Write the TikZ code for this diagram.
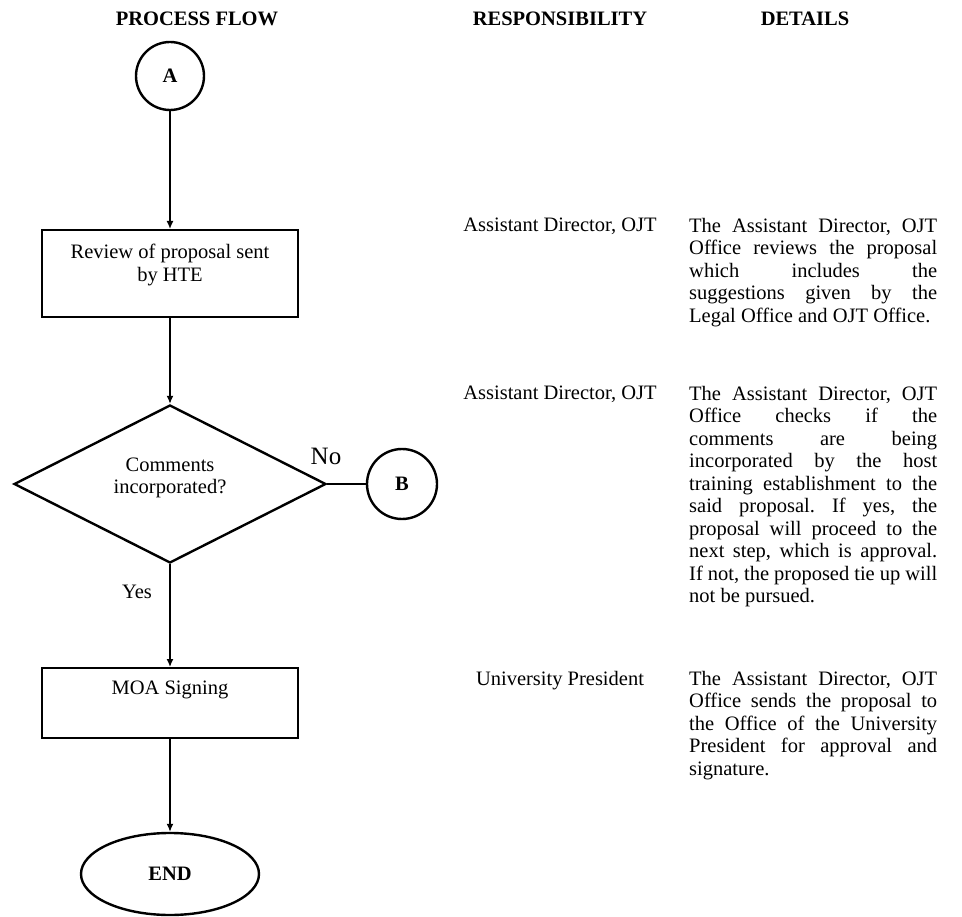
\documentclass[tikz,border=0pt]{standalone}
\usepackage{fontspec}
\setmainfont{Liberation Serif}
\usetikzlibrary{shapes.geometric,arrows.meta}

\newcommand{\pfsize}{\fontsize{20.5}{22.5}\selectfont}
\frenchspacing
\tikzset{
  flowbox/.style={draw, line width=2.4pt, minimum width=256pt, minimum height=87pt, anchor=north, inner sep=0pt},
  decision/.style={draw, diamond, line width=2.4pt, minimum width=312pt, minimum height=158pt, inner sep=0pt},
  connector/.style={draw, circle, line width=2.4pt, inner sep=0pt, font=\pfsize\bfseries},
  terminal/.style={draw, ellipse, line width=2.4pt, minimum width=178pt, minimum height=82pt, font=\pfsize\bfseries},
  flowline/.style={line width=1.4pt},
  flowarrow/.style={flowline, -{Latex[length=8pt,width=7pt]}},
  header/.style={font=\pfsize\bfseries},
  boxtext/.style={anchor=north, inner sep=0pt, align=center},
  detail/.style={anchor=north west, inner sep=0pt, text width=248pt, align=justify},
}

\begin{document}
\begin{tikzpicture}[x=1pt, y=-1pt, font=\pfsize]
        \useasboundingbox (0,0) rectangle (962,917);
        % Draw column headers
        \node[header] (hflow) at (197,19) {PROCESS FLOW};
        \node[header] (hresp) at (560,19) {RESPONSIBILITY};
        \node[header] (hdet) at (805,19) {DETAILS};
        % Draw flow shapes
        \node[connector, minimum size=68pt] (circA) at (170,76) {A};
        \node[flowbox] (review) at (170,229) {};
        \node[boxtext] (reviewtxt) at (170,244) {Review of proposal sent\\by HTE};
        \node[decision] (check) at (170,484) {};
        \node[inner sep=0pt, align=center] (checktxt) at (170,478) {Comments\\incorporated?};
        \node[connector, minimum size=70pt] (circB) at (402,484) {B};
        \node[flowbox, minimum height=70pt] (moa) at (170,667) {};
        \node[boxtext] (moatxt) at (170,681) {MOA Signing};
        \node[terminal] (endnode) at (170,874) {END};
        % Draw connectors
        \draw[flowarrow] (circA) -- (review);
        \draw[flowarrow] (review) -- (check);
        \draw[flowline] (check.east) -- (circB.west);
        \draw[flowarrow] (check) -- (moa);
        \draw[flowarrow] (moa) -- (endnode);
        \node[font=\fontsize{25}{28}\selectfont] (nolbl) at (326,456) {No};
        \node (yeslbl) at (137,592) {Yes};
        % Draw responsibility column
        \node[anchor=base] (resp1) at (560,232) {Assistant Director, OJT};
        \node[anchor=base] (resp2) at (560,400) {Assistant Director, OJT};
        \node[anchor=base] (resp3) at (560,685) {University President};
        % Draw details column
        \node[detail] (det1) at (689,218) {\noindent The Assistant Director, OJT\linebreak
          Office reviews the proposal\linebreak which includes the\linebreak
          suggestions given by the\linebreak Legal Office and OJT Office.};
        \node[detail] (det2) at (689,386) {\noindent The Assistant Director, OJT\linebreak
          Office checks if the\linebreak comments are being\linebreak
          incorporated by the host\linebreak training establishment to the\linebreak
          said proposal. If yes, the\linebreak proposal will proceed to the\linebreak
          next step, which is approval.\linebreak If not, the proposed tie up will\linebreak
          not be pursued.};
        \node[detail] (det3) at (689,671) {\noindent The Assistant Director, OJT\linebreak
          Office sends the proposal to\linebreak the Office of the University\linebreak
          President for approval and\linebreak signature.};
    \end{tikzpicture}
\end{document}
